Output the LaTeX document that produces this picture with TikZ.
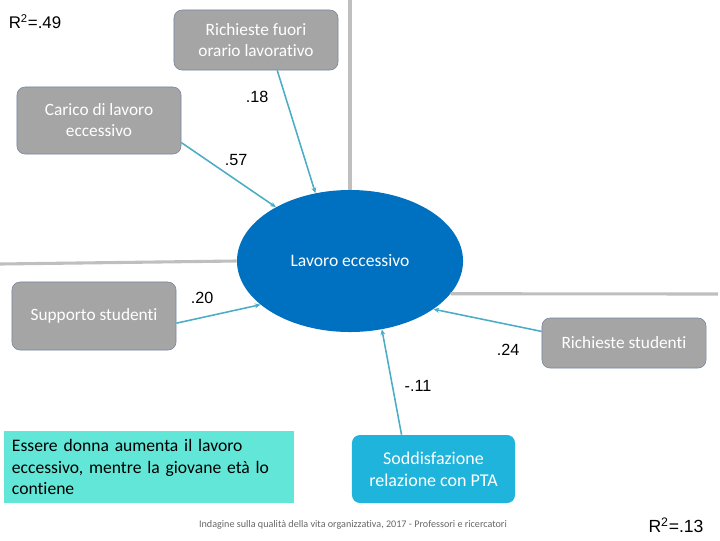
\documentclass[tikz,border=0pt]{standalone}
\usepackage{fontspec}
\setmainfont{Carlito}[Ligatures=NoCommon]
\newfontfamily\arialfont{Liberation Sans}
\usepackage{tikz}
\usetikzlibrary{positioning,arrows.meta,shapes.geometric}
\usepackage{xcolor}
\definecolor{boxgray}{HTML}{A5A5A5}
\definecolor{boxline}{HTML}{7585A0}
\definecolor{ellblue}{HTML}{0070C0}
\definecolor{arrteal}{HTML}{4BACC6}
\definecolor{axgray}{HTML}{BFBFBF}
\definecolor{ptacyan}{HTML}{1FB4DC}
\definecolor{notecyan}{HTML}{61E6D7}

\begin{document}
\begin{tikzpicture}[x=0.025cm,y=-0.025cm,
  box/.style={rectangle,rounded corners=0.2cm,draw=boxline,fill=boxgray,text=white,
    minimum width=4.1cm,inner sep=0pt,align=center,font=\fontsize{12.3}{15}\selectfont},
  coef/.style={font=\arialfont\fontsize{11.5}{13}\selectfont},
  ax/.style={draw=axgray,line width=2.2pt},
  ed/.style={draw=arrteal,line width=1.1pt,-{Stealth[length=4pt,width=3.5pt]}}]
  \useasboundingbox (0,0) rectangle (720,540);
  % latent factor
  \node[ellipse,fill=ellblue,minimum width=5.65cm,minimum height=3.55cm,inner sep=0pt,
    text=white,font=\fontsize{12.5}{15}\selectfont] (le) at (350,261) {Lavoro eccessivo};
  \coordinate (axt) at (350,0);
  \coordinate (axl) at (0,264);
  \coordinate (axr) at (718,294);
  \draw[ax] (axt)--(le.north);
  \draw[ax] (axl)--(le.west);
  \draw[ax] (le.-18)--(axr);
  % predictors
  \node[box,minimum height=1.5cm] (rf) at (256,40) {Richieste fuori\\orario lavorativo};
  \node[box,minimum height=1.675cm] (cl) at (99,120.5) {Carico di lavoro\\eccessivo};
  \node[box,minimum height=1.7cm] (ss) at (94,316) {Supporto studenti};
  \node[box,minimum height=1.25cm] (rs) at (624,343) {Richieste studenti};
  \node[box,draw=none,fill=ptacyan,minimum width=4.075cm,minimum height=1.7cm,
    font=\fontsize{12.8}{15.5}\selectfont] (sp) at (433.5,469) {Soddisfazione\\relazione con PTA};
  \node[rectangle,fill=notecyan,text width=6.85cm,inner xsep=0.2cm,inner ysep=0pt,
    minimum height=1.8cm,align=left,font=\fontsize{12.5}{15.5}\selectfont] (nt) at (149,467)
    {Essere donna aumenta il lavoro\\eccessivo, mentre la giovane età lo\\contiene};
  \draw[ed] (rf.-55)--(le.117);
  \draw[ed] (cl.-15)--(le.144);
  \draw[ed] (ss.-5)--(le.206);
  \draw[ed] (rs.172)--(le.330);
  \draw[ed] (sp.133)--(le.295);
  % coefficients
  \node[coef] (k1) at (257,97) {.18};
  \node[coef] (k2) at (236,160) {.57};
  \node[coef] (k3) at (202,298) {.20};
  \node[coef] (k4) at (508,350) {.24};
  \node[coef] (k5) at (418,386) {-.11};
  \node[coef,font=\arialfont\fontsize{12}{14}\selectfont] (r1) at (35,22) {R\textsuperscript{2}=.49};
  \node[coef,font=\arialfont\fontsize{12.5}{14}\selectfont] (r2) at (676,525) {R\textsuperscript{2}=.13};
  \node[text=black!60,font=\fontsize{7.2}{8}\selectfont] (ft) at (353,525)
    {Indagine sulla qualità della vita organizzativa, 2017 - Professori e ricercatori};
\end{tikzpicture}
\end{document}
